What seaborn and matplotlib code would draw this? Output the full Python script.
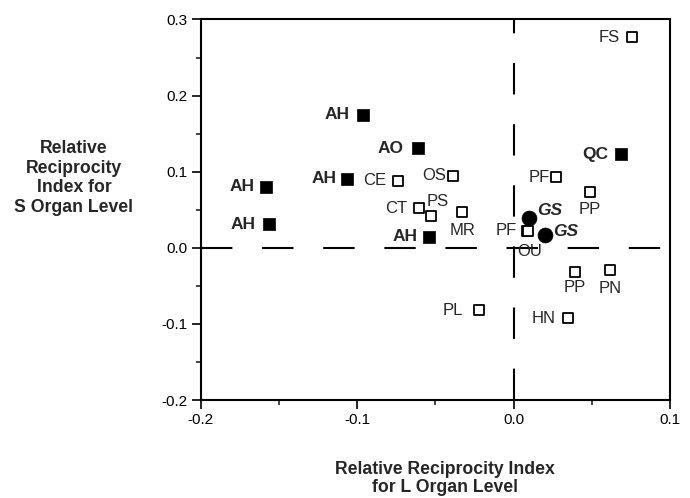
import matplotlib
matplotlib.use("Agg")
import matplotlib.pyplot as plt
import seaborn as sns
import pandas as pd
from matplotlib.ticker import MultipleLocator, FormatStrFormatter

# ---- data ----
labels = ["FS", "AH", "AO", "QC", "AH", "AH", "CE", "OS", "PF", "PP", "CT", "PS",
          "MR", "AH", "AH", "GS", "PF", "OU", "GS", "PP", "PN", "PL", "HN"]
x_vals = [0.0754, -0.0960, -0.0612, 0.0690, -0.1580, -0.1063, -0.0737, -0.0385,
          0.0273, 0.0488, -0.0605, -0.0524, -0.0328, -0.1560, -0.0537, 0.0102,
          0.0088, 0.0095, 0.0204, 0.0390, 0.0615, -0.0222, 0.0347]
y_vals = [0.277, 0.175, 0.131, 0.123, 0.0805, 0.0907, 0.0884, 0.095,
          0.0924, 0.0727, 0.052, 0.0424, 0.0469, 0.031, 0.0148, 0.039,
          0.0223, 0.0215, 0.017, -0.0315, -0.029, -0.0819, -0.0924]
kinds = ["open", "filled", "filled", "filled", "filled", "filled", "open", "open",
         "open", "open", "open", "open", "open", "filled", "filled", "circle",
         "open", "open", "circle", "open", "open", "open", "open"]

x_ticks = [-0.2, -0.1, 0.0, 0.1]
y_ticks = [-0.2, -0.1, 0.0, 0.1, 0.2, 0.3]

# label placement (pixel offsets from marker centre; +y is downward)
label_offsets = [(-12, 0), (-14, 0), (-14, 0), (-13, 0), (-12, 0), (-11, 0), (-12, 0),
                 (-7, 0), (-6, 0), (0, 17), (-12, 0), (6, -14), (0, 18), (-14, 0),
                 (-12, 0), (8, -8), (-10, 0), (1, 20), (8, -3), (0, 16), (0, 19),
                 (-16, 0), (-12, 0)]

df = pd.DataFrame({"label": labels, "x": x_vals, "y": y_vals, "kind": kinds})

sns.set_style("ticks")
plt.rcParams["font.family"] = ["Liberation Sans", "DejaVu Sans"]
plt.rcParams["axes.unicode_minus"] = False
plt.rcParams["lines.scale_dashes"] = False

W, H = 690, 498
fig = plt.figure(figsize=(W / 100, H / 100), dpi=100)
left, right, top, bottom = 200.5, 670, 19.5, 400
ax = fig.add_axes([left / W, 1 - bottom / H, (right - left) / W, (bottom - top) / H])

# reference lines
dash = (0, (22.6, 21.4))
ax.axhline(0, color="black", lw=1.5, ls=dash, zorder=1)
ax.axvline(0, color="black", lw=1.5, ls=dash, zorder=1)

sns.scatterplot(data=df[df.kind == "open"], x="x", y="y", marker="s", s=52,
                facecolor="white", edgecolor="black", linewidth=1.3, ax=ax,
                zorder=3, legend=False)
sns.scatterplot(data=df[df.kind == "filled"], x="x", y="y", marker="s", s=78,
                color="black", edgecolor="black", linewidth=0.5, ax=ax,
                zorder=3, legend=False)
sns.scatterplot(data=df[df.kind == "circle"], x="x", y="y", marker="o", s=115,
                color="black", edgecolor="black", linewidth=0.5, ax=ax,
                zorder=4, legend=False)

px2pt = 0.72
for lab, xv, yv, k, (dx, dy) in zip(labels, x_vals, y_vals, kinds, label_offsets):
    if dy == 0:
        ha = "right" if dx < 0 else "left"
    elif abs(dx) < 2:
        ha = "center"
    else:
        ha = "left" if dx > 0 and k == "circle" else "center"
    bold = k in ("filled", "circle")
    ax.annotate(lab, (xv, yv), xytext=(dx * px2pt, -dy * px2pt),
                textcoords="offset points", ha=ha, va="center",
                fontsize=12.5 if bold else 12,
                fontweight="bold" if bold else "normal",
                fontstyle="italic" if k == "circle" else "normal", zorder=5)

ax.set_xlim(-0.2, 0.1)
ax.set_ylim(-0.2, 0.3)
ax.set_xticks(x_ticks)
ax.set_yticks(y_ticks)
ax.xaxis.set_minor_locator(MultipleLocator(0.05))
ax.yaxis.set_minor_locator(MultipleLocator(0.05))
ax.xaxis.set_major_formatter(FormatStrFormatter("%.1f"))
ax.yaxis.set_major_formatter(FormatStrFormatter("%.1f"))
ax.tick_params(which="major", direction="out", length=6.5, width=1.2,
               labelsize=11, pad=3, colors="black")
ax.tick_params(which="minor", direction="out", length=3.5, width=1.2)
ax.tick_params(top=False, right=False, which="both")
for sp in ax.spines.values():
    sp.set_linewidth(1.5)
    sp.set_color("black")
    sp.set_visible(True)
ax.set_xlabel("")
ax.set_ylabel("")

fig.text(445 / W, 1 - 478.5 / H, "Relative Reciprocity Index\nfor L Organ Level",
         ha="center", va="center", multialignment="center", fontsize=12.7,
         fontweight="bold", linespacing=1.15)
fig.text(74 / W, 1 - 178 / H, "Relative\nReciprocity\nIndex for\nS Organ Level",
         ha="center", va="center", multialignment="center", fontsize=12.7,
         fontweight="bold", linespacing=1.2)

fig.savefig("out.png", dpi=100, facecolor="white")
